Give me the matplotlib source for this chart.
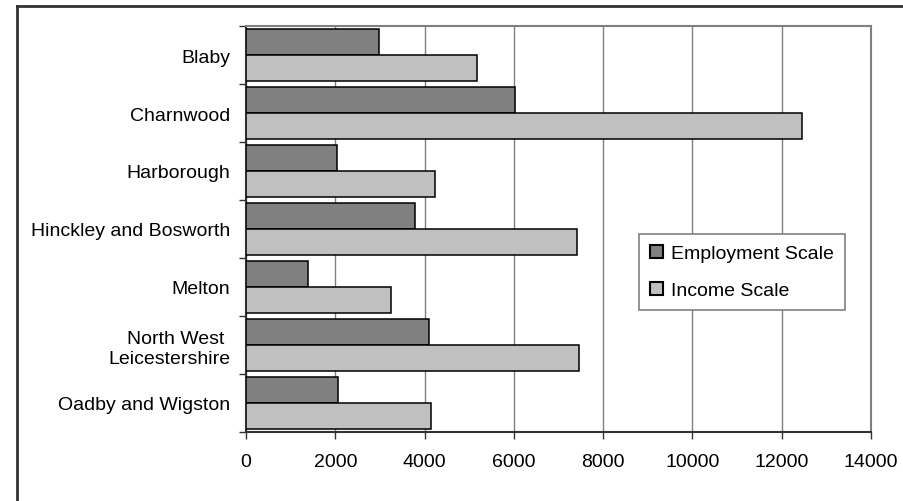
import numpy as np
import matplotlib
matplotlib.use("Agg")
import matplotlib.pyplot as plt
from matplotlib.lines import Line2D

plt.rcParams['font.family'] = ['Liberation Sans', 'DejaVu Sans']

# districts, top to bottom
districts = ["Blaby", "Charnwood", "Harborough", "Hinckley and Bosworth",
             "Melton", "North West \nLeicestershire", "Oadby and Wigston"]
employment = [2980, 6020, 2030, 3790, 1400, 4100, 2070]
income = [5170, 12450, 4230, 7420, 3250, 7460, 4150]
xticks = [0, 2000, 4000, 6000, 8000, 10000, 12000, 14000]

W, H = 904, 502
fig = plt.figure(figsize=(W / 100, H / 100), dpi=100)
ax = fig.add_axes([246 / W, (H - 433) / H, (871 - 246) / W, (433 - 27) / H])

y = np.arange(len(districts))
bh = 0.44
ax.barh(y - bh / 2, employment, height=bh, color="#808080", edgecolor="black",
        linewidth=1.1, label="Employment Scale", zorder=3)
ax.barh(y + bh / 2, income, height=bh, color="#c0c0c0", edgecolor="black",
        linewidth=1.1, label="Income Scale", zorder=3)

ax.set_xlim(0, 14000)
ax.set_ylim(len(districts) - 0.5, -0.5)
ax.set_xticks(xticks)
ax.set_xticklabels([str(v) for v in xticks])
ax.grid(axis="x", color="#808080", linewidth=1.0, zorder=0)

# boundary ticks on y, labels at the category centres
ax.set_yticks(np.arange(len(districts) + 1) - 0.5)
ax.set_yticklabels([])
ax.set_yticks(y, minor=True)
ax.set_yticklabels(districts, minor=True)
ax.tick_params(axis="y", which="major", length=5, width=1, color="#333333")
ax.tick_params(axis="y", which="minor", length=0, pad=11.5, labelsize=14)
ax.tick_params(axis="x", length=5, width=1, color="#333333", pad=10, labelsize=14)

for side in ["left", "bottom"]:
    ax.spines[side].set_color("#333333")
    ax.spines[side].set_linewidth(1.5)
for side in ["top", "right"]:
    ax.spines[side].set_color("#808080")
    ax.spines[side].set_linewidth(1.5)

leg = ax.legend(loc="upper left", bbox_to_anchor=(639 / W, (H - 235) / H),
                bbox_transform=fig.transFigure, borderaxespad=0, fontsize=14,
                fancybox=False, framealpha=1, edgecolor="#808080",
                handlelength=0.67, handleheight=0.67, handletextpad=0.45,
                labelspacing=1.0, borderpad=0.55)
leg.get_frame().set_linewidth(1.2)
for p in leg.get_patches():
    p.set_linewidth(1.5)

# outer chart frame (left and top edges visible)
fig.add_artist(Line2D([17 / W, 17 / W], [0, (H - 7) / H], color="#333333", linewidth=2))
fig.add_artist(Line2D([17 / W, 1], [(H - 7) / H, (H - 7) / H], color="#333333", linewidth=2))

fig.savefig("out.png", dpi=100)
